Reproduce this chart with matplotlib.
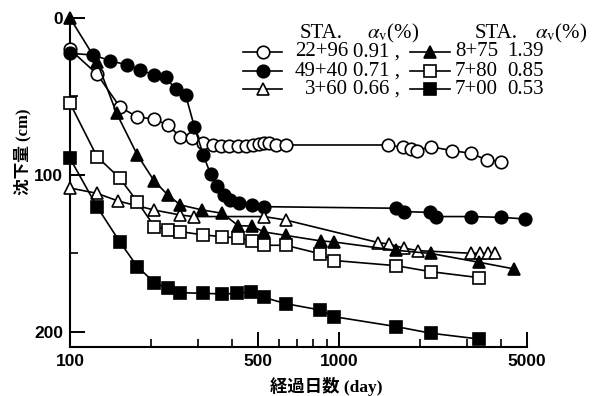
import numpy as np
import matplotlib
matplotlib.use('Agg')
import matplotlib.pyplot as plt
from matplotlib.lines import Line2D

plt.rcParams['mathtext.fontset'] = 'stix'

#---------------- dati (giorni, cedimento cm)
# STA. 22+96  (cerchi vuoti)
x_2296 = [100, 126, 153, 177, 206, 231, 257, 285, 311, 339, 363, 389, 420, 450, 478,
          503, 525, 548, 582, 634, 1520, 1729, 1845, 1954, 2191, 2634, 3090, 3545, 4000]
y_2296 = [20, 35.7, 56.5, 62.9, 64.5, 68.2, 75.6, 76.6, 79.8, 80.9, 81.3, 81.3, 81.3, 81.3, 80.9,
          80.4, 79.8, 79.8, 80.9, 80.9, 80.9, 82.4, 83.2, 84.5, 82, 84.5, 86.2, 90.4, 91.5]

# STA. 49+40  (cerchi pieni)
x_4940 = [100, 122, 141, 163, 182, 206, 227, 247, 269, 290, 313, 333, 353, 373, 395, 425,
          476, 526, 1632, 1743, 2173, 2301, 3090, 4000, 4900]
y_4940 = [22.5, 23.6, 27.2, 29.9, 33.1, 36.3, 37.8, 45.4, 49, 69.2, 87.3, 99.4, 107, 112.7,
          115.9, 118, 119.1, 120.2, 121.2, 123.4, 123.8, 126.5, 126.5, 127, 128]

# STA. 3+60  (triangoli vuoti)
x_360 = [100, 126, 151, 205, 257, 288, 526, 634, 1402, 1528, 1743, 1967, 3109, 3338, 3566, 3797]
y_360 = [108.3, 111.7, 116.6, 122.3, 125.5, 126.5, 126.5, 128.7, 143.1, 144, 146.6, 148.2,
         149.9, 149.9, 149.9, 149.9]

# STA. 8+75  (triangoli pieni)
x_875 = [100, 126, 149, 178, 206, 231, 257, 310, 368, 422, 474, 526, 634, 854, 960,
         1632, 2191, 3310, 4486]
y_875 = [0, 27.8, 60.7, 87.3, 104, 112.7, 119.1, 122.3, 124.4, 132.3, 132.6, 136.3, 138.5,
         142, 142.7, 148, 150, 155.6, 159.9]

# STA. 7+80  (quadrati vuoti)
x_780 = [100, 126, 153, 178, 206, 231, 257, 313, 368, 421, 474, 526, 634, 850, 960,
         1632, 2191, 3310]
y_780 = [54.3, 88.3, 102, 117, 132.9, 135, 136.1, 138.2, 139.3, 140.1, 141.9, 144.8, 144.8,
         150.2, 154.5, 157.8, 161.6, 165.4]

# STA. 7+00  (quadrati pieni)
x_700 = [100, 126, 153, 178, 206, 231, 257, 313, 368, 419, 472, 526, 634, 850, 960,
         1632, 2191, 3310]
y_700 = [89.4, 120.2, 142.5, 158.4, 168.6, 172.2, 175, 175.4, 175.8, 175.5, 174.3, 178,
         182, 186, 190.3, 196.6, 200.8, 204.5]

# colonne della legenda
stations_left = ['22+96', '49+40', '3+60']
alpha_left = ['0.91 ,', '0.71 ,', '0.66 ,']
stations_right = ['8+75', '7+80', '7+00']
alpha_right = ['1.39', '0.85', '0.53']

W, H = 596, 396
def fx(px):
    return px / W
def fy(py):
    return 1 - py / H

fig = plt.figure(figsize=(W / 100, H / 100), dpi=100)
ax = fig.add_axes([fx(70), fy(347), fx(527) - fx(70), fy(18) - fy(347)])

ms = 9
mew = 1.2
lw = 1.2
styles = {
    'oc': dict(marker='o', mfc='white'),
    'fc': dict(marker='o', mfc='black'),
    'ot': dict(marker='^', mfc='white'),
    'ft': dict(marker='^', mfc='black'),
    'os': dict(marker='s', mfc='white'),
    'fs': dict(marker='s', mfc='black'),
}
series = [(x_2296, y_2296, 'oc'), (x_4940, y_4940, 'fc'), (x_360, y_360, 'ot'),
          (x_875, y_875, 'ft'), (x_780, y_780, 'os'), (x_700, y_700, 'fs')]
for xs, ys, k in series:
    ax.plot(xs, ys, color='black', lw=lw, ms=ms, mec='black', mew=mew,
            clip_on=False, zorder=3, **styles[k])

ax.set_xscale('log')
ax.set_xlim(100, 5000)
ax.set_ylim(209.6, 0)

ax.set_xticks([100, 500, 1000, 5000])
ax.set_xticklabels(['100', '500', '1000', '5000'])
ax.set_xticks([200, 300, 400, 600, 700, 800, 900, 2000, 3000, 4000], minor=True)
ax.xaxis.set_minor_formatter(plt.NullFormatter())
ax.set_yticks([0, 100, 200])
ax.set_yticks([50, 150], minor=True)

for s in ['top', 'right']:
    ax.spines[s].set_visible(False)
for s in ['left', 'bottom']:
    ax.spines[s].set_linewidth(1.5)

ax.tick_params(which='major', direction='in', length=11, width=1.4, pad=5)
ax.tick_params(which='minor', direction='in', length=6, width=1.2)
for lab in ax.get_xticklabels() + ax.get_yticklabels():
    lab.set_fontfamily('Liberation Sans')
    lab.set_fontweight('bold')
    lab.set_fontsize(12.5)

# etichette degli assi
fig.text(fx(326), fy(386), '経過日数 (day)', ha='center', va='center', fontsize=12.5,
         fontweight='bold', family=['Liberation Serif', 'Noto Sans CJK JP'])
fig.text(fx(23), fy(152), '沈下量 (cm)', ha='center', va='center', rotation=90,
         fontsize=12, fontweight='bold', family=['Liberation Serif', 'Noto Sans CJK JP'])

#------------- legenda disegnata a mano
fs = 15
serif = 'Liberation Serif'
rows = [52, 71, 89]
fig.text(fx(300), fy(33), 'STA.', fontsize=fs, family=serif, va='center')
fig.text(fx(367), fy(33), r'$\alpha_{\rm v}$(%)', fontsize=fs, family=serif, va='center')
fig.text(fx(475), fy(33), 'STA.', fontsize=fs, family=serif, va='center')
fig.text(fx(535), fy(33), r'$\alpha_{\rm v}$(%)', fontsize=fs, family=serif, va='center')

left_keys = ['oc', 'fc', 'ot']
right_keys = ['ft', 'os', 'fs']
for i, py in enumerate(rows):
    fig.add_artist(Line2D([fx(243), fx(282)], [fy(py), fy(py)], color='black', lw=lw))
    fig.add_artist(Line2D([fx(263)], [fy(py)], color='black', ms=ms, mec='black', mew=mew,
                          **styles[left_keys[i]]))
    fig.text(fx(348), fy(py), stations_left[i], fontsize=fs, family=serif, ha='right', va='center')
    fig.text(fx(353), fy(py), alpha_left[i], fontsize=fs, family=serif, va='center')

    fig.add_artist(Line2D([fx(410), fx(450)], [fy(py), fy(py)], color='black', lw=lw))
    fig.add_artist(Line2D([fx(430)], [fy(py)], color='black', ms=ms, mec='black', mew=mew,
                          **styles[right_keys[i]]))
    fig.text(fx(455), fy(py), stations_right[i], fontsize=fs, family=serif, va='center')
    fig.text(fx(507), fy(py), alpha_right[i], fontsize=fs, family=serif, va='center')

plt.savefig('out.png', dpi=100)
